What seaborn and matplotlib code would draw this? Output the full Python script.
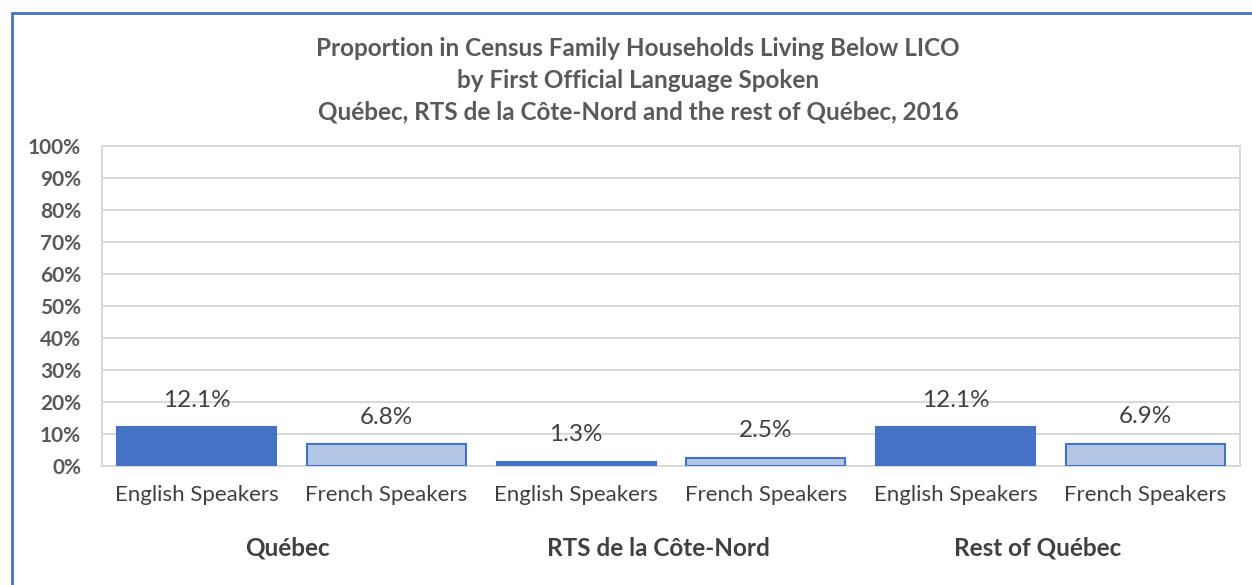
import pandas as pd
import matplotlib.pyplot as plt
import seaborn as sns
from matplotlib.patches import Rectangle
import matplotlib.transforms as mtransforms

# data
regions = ["Québec", "RTS de la Côte-Nord", "Rest of Québec"]
languages = ["English Speakers", "French Speakers"]
values = [12.1, 6.8, 1.3, 2.5, 12.1, 6.9]

rows = []
i = 0
for r in regions:
    for lang in languages:
        rows.append({"key": f"{r}|{lang}", "Region": r, "Language": lang, "Value": values[i]})
        i += 1
df = pd.DataFrame(rows)

sns.set_theme(style="white")
plt.rcParams['font.family'] = ['Lato', 'DejaVu Sans']

grey = "#595959"
blue = "#4472C4"
light = "#B4C7E7"

fig = plt.figure(figsize=(12.52, 5.85), dpi=100)
ax = fig.add_axes([102 / 1252, 1 - 466 / 585, (1240 - 102) / 1252, (466 - 146) / 585])

sns.barplot(data=df, x="key", y="Value", hue="Language", dodge=False, saturation=1,
            palette={"English Speakers": blue, "French Speakers": light},
            width=0.84, edgecolor=blue, linewidth=1.5, legend=False, ax=ax, zorder=3)

ax.set_ylim(0, 100)
ax.set_xlim(-0.5, len(df) - 0.5)
ax.set_yticks(range(0, 101, 10))
ax.set_yticklabels([f"{v}%" for v in range(0, 101, 10)], fontsize=15, fontweight="bold", color=grey)
ax.yaxis.grid(True, color="#D9D9D9", linewidth=1.5, zorder=0)
ax.set_axisbelow(True)
for s in ax.spines.values():
    s.set_color("#D9D9D9")
    s.set_linewidth(1.5)
ax.tick_params(axis="y", length=0, pad=15)
ax.tick_params(axis="x", length=0, pad=14)
ax.set_xticks(range(len(df)))
ax.set_xticklabels(df["Language"], fontsize=16, color="#404040")
ax.set_xlabel("")
ax.set_ylabel("")

# value labels
for x, v in enumerate(df["Value"]):
    ax.annotate(f"{v}%", (x, v), xytext=(0, 19.5), textcoords="offset points",
                ha="center", va="center", fontsize=17.5, color="#404040")

# region labels under each pair (Excel sets them a little left of centre)
trans = mtransforms.blended_transform_factory(ax.transData, fig.transFigure)
nudge = [-3, -9, -9]
for j, r in enumerate(regions):
    ax.annotate(r, (2 * j + 0.5, 1 - 548 / 585), xycoords=trans, xytext=(nudge[j], 0),
                textcoords="offset points", ha="center", va="center",
                fontsize=17.5, fontweight="bold", color="#404040")

title = ("Proportion in Census Family Households Living Below LICO\n"
         "by First Official Language Spoken\n"
         "Québec, RTS de la Côte-Nord and the rest of Québec, 2016")
fig.text(638 / 1252, 1 - 80 / 585, title, ha="center", va="center", fontsize=17.5,
         fontweight="bold", color=grey, linespacing=1.45)

# chart frame
fig.patches.append(Rectangle((12 / 1252, -0.05), 1.1, 1 - 13 / 585 + 0.05, transform=fig.transFigure,
                             fill=False, edgecolor=blue, linewidth=2))

plt.savefig("out.png", dpi=100)
